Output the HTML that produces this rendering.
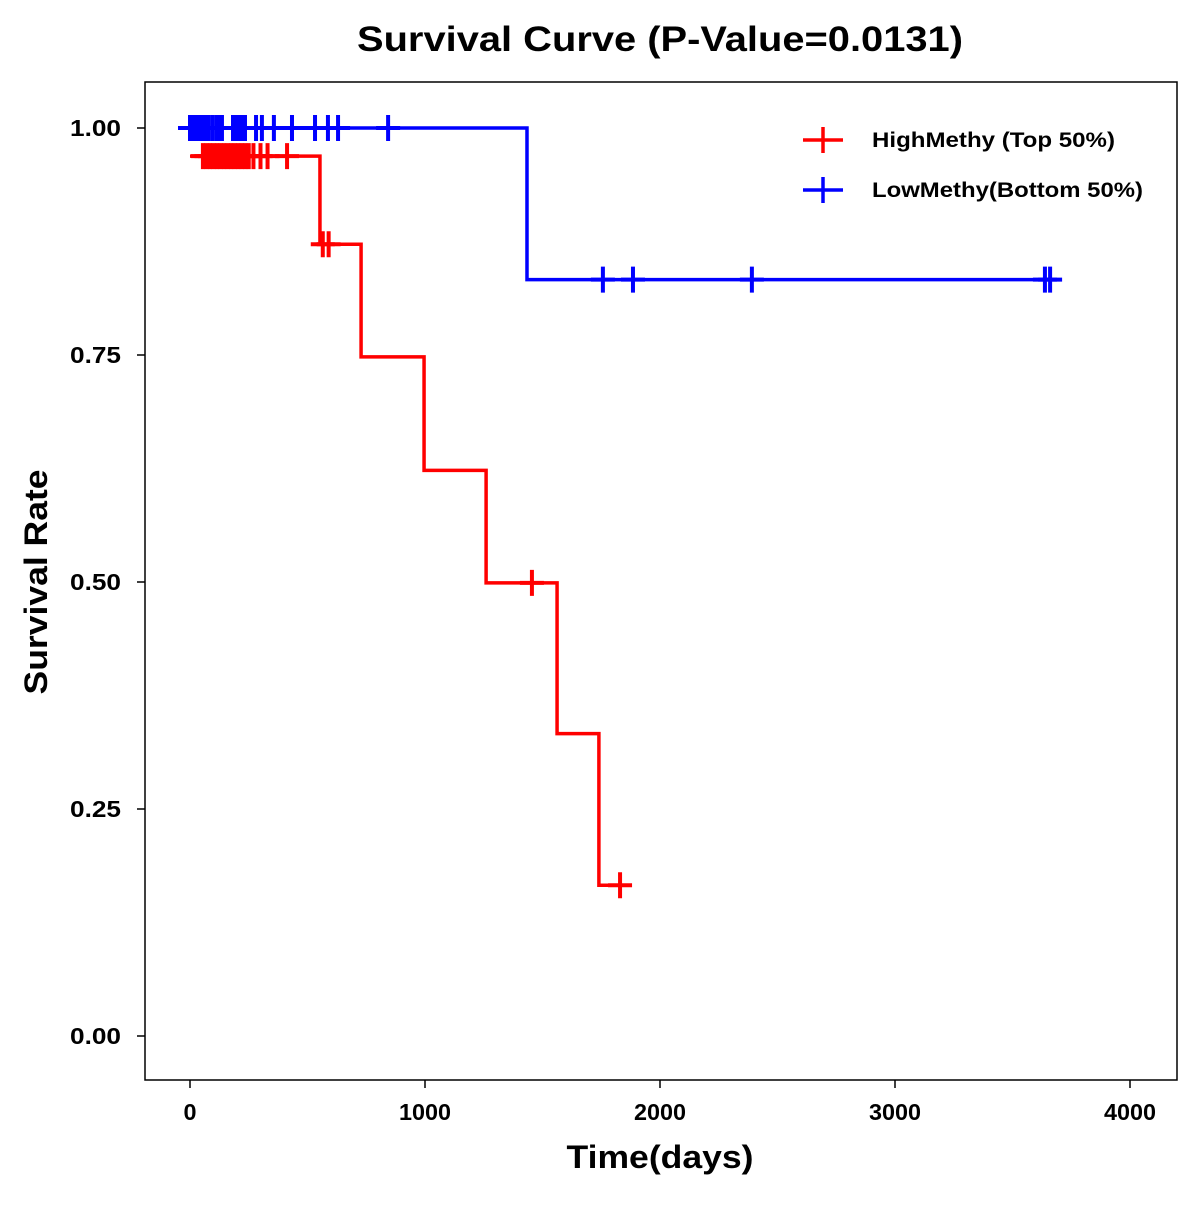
<!DOCTYPE html>
<html><head><meta charset="utf-8"><style>
body{margin:0;background:#fff}
svg text{font-family:"Liberation Sans",Arial,sans-serif;font-weight:bold;fill:#000}
</style></head><body>
<svg id="chart" width="1200" height="1200" xmlns="http://www.w3.org/2000/svg">
<rect width="1200" height="1200" fill="#fff"/>
<text x="660" y="51" font-size="35" text-anchor="middle" textLength="606" lengthAdjust="spacingAndGlyphs">Survival Curve (P-Value=0.0131)</text>
<rect x="145" y="82" width="1032" height="998" fill="none" stroke="#000" stroke-width="1.5"/>
<g id="xaxis"></g>
<g id="yaxis"></g>
<text x="660" y="1168" font-size="32" text-anchor="middle" textLength="187" lengthAdjust="spacingAndGlyphs">Time(days)</text>
<text transform="translate(47,582) rotate(-90)" font-size="32" text-anchor="middle" textLength="225" lengthAdjust="spacingAndGlyphs">Survival Rate</text>
<g id="series"></g>
<g>
<g>
<line x1="803" y1="140" x2="843" y2="140" stroke="#f00" stroke-width="3.5"/>
<line x1="823" y1="127" x2="823" y2="153" stroke="#f00" stroke-width="3.5"/>
<text x="872" y="147" font-size="21" textLength="243" lengthAdjust="spacingAndGlyphs">HighMethy (Top 50%)</text></g>
<g>
<line x1="803" y1="190" x2="843" y2="190" stroke="#00f" stroke-width="3.5"/>
<line x1="823" y1="177" x2="823" y2="203" stroke="#00f" stroke-width="3.5"/>
<text x="872" y="197" font-size="21" textLength="271" lengthAdjust="spacingAndGlyphs">LowMethy(Bottom 50%)</text></g>
</g>
</svg>
<script>
const xTicks=[0,1000,2000,3000,4000];
const yTicks=[0,0.25,0.5,0.75,1.0];
const yTickLabels=["0.00","0.25","0.50","0.75","1.00"];
const highTimes=[0,553,728,996,1260,1562,1740];
const highSurv=[0.969,0.872,0.748,0.623,0.499,0.333,0.166];
const highEnd=1830;
const highCensor=[55,70,85,100,115,130,145,160,175,190,205,220,235,250,270,300,330,413,565,590,1455,1830];
const lowTimes=[0,1434];
const lowSurv=[1.0,0.833];
const lowEnd=3660;
const lowCensor=[0,5,13,26,38,51,64,77,94,111,123,136,183,196,209,221,234,281,306,357,434,532,587,630,843,1757,1885,2391,3638,3660];

const NS="http://www.w3.org/2000/svg";
const X=t=>190+t*0.235;
const Y=s=>1036-s*908;
function mk(tag,attrs,parent){const e=document.createElementNS(NS,tag);for(const k in attrs)e.setAttribute(k,attrs[k]);parent.appendChild(e);return e;}
const xa=document.getElementById('xaxis'),ya=document.getElementById('yaxis'),sr=document.getElementById('series');
xTicks.forEach(v=>{
  const l=mk('line',{x1:X(v),x2:X(v),y1:1080,y2:1088,stroke:'#000','stroke-width':1.5},xa);
  
  
  const w=String(v).length*13;
  const t=mk('text',{x:X(v),y:1120,'font-size':23,'text-anchor':'middle',textLength:w,lengthAdjust:'spacingAndGlyphs'},xa);t.textContent=v;
  
  
});
yTicks.forEach((v,i)=>{
  const l=mk('line',{x1:137,x2:145,y1:Y(v),y2:Y(v),stroke:'#000','stroke-width':1.5},ya);
  
  
  const t=mk('text',{x:121,y:Y(v)+8,'font-size':23,'text-anchor':'end',textLength:51,lengthAdjust:'spacingAndGlyphs'},ya);t.textContent=yTickLabels[i];
  
  
});
function survAt(times,surv,t){let s=surv[0];for(let i=0;i<times.length;i++)if(times[i]<=t)s=surv[i];return s;}
function draw(times,surv,end,cens,color,name){
  const g=mk('g',{},sr);
  
  
  let d='M'+X(times[0])+','+Y(surv[0]);
  for(let i=1;i<times.length;i++){d+=' H'+X(times[i])+' V'+Y(surv[i]);}
  d+=' H'+X(end);
  const p=mk('path',{d:d,fill:'none',stroke:color,'stroke-width':3.5},g);
  
  
  cens.forEach(c=>{
    const s=survAt(times,surv,c);
    const m=mk('path',{d:'M'+(X(c)-12)+','+Y(s)+' H'+(X(c)+12)+' M'+X(c)+','+(Y(s)-13)+' V'+(Y(s)+13),stroke:color,'stroke-width':4,fill:'none'},g);
    
    
  });
}
draw(lowTimes,lowSurv,lowEnd,lowCensor,'#0000ff','low-methy-curve');
draw(highTimes,highSurv,highEnd,highCensor,'#ff0000','high-methy-curve');
</script>
</body></html>
